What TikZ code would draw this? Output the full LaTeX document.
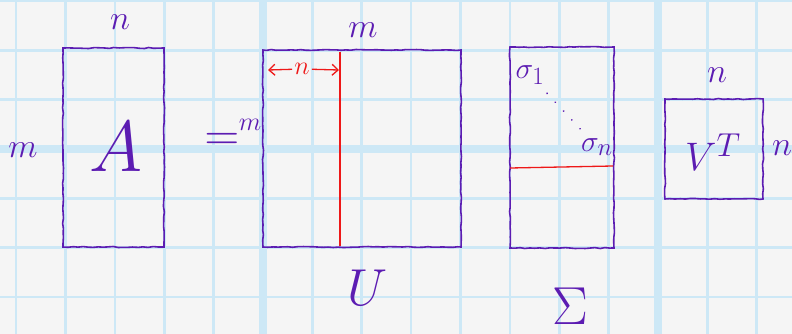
\documentclass[tikz,border=0pt]{standalone}
\usepackage{xcolor}
\usepackage{tikz}
\usetikzlibrary{positioning, arrows.meta, decorations.pathmorphing}

\definecolor{ink}{RGB}{92,28,178}
\definecolor{redink}{RGB}{238,24,24}
\definecolor{gridblue}{RGB}{205,232,246}
\definecolor{paper}{RGB}{245,245,245}

\tikzset{
  wobble/.style={decorate, decoration={random steps, segment length=5pt, amplitude=0.5pt}},
  matbox/.style={draw=ink, line width=1.6pt, minimum width=#1, inner sep=0pt},
  lbl/.style={text=ink, inner sep=0pt, font=\Huge, scale=1.37},
  big/.style={text=ink, inner sep=0pt, font=\Huge, scale=#1},
  redline/.style={draw=redink, line width=1.3pt},
}

\begin{document}
\begin{tikzpicture}[x=1pt, y=-1pt]
        \useasboundingbox (0,0) rectangle (792,334);
        \fill[paper] (0,0) rectangle (792,334);
%
        % grid paper
        \foreach \i in {0,...,15}
            \draw[gridblue, line width=2.6pt] ({16.1+49.375*\i},0) -- ({16.1+49.375*\i},334);
        \foreach \j in {0,...,6}
            \draw[gridblue, line width=2.6pt] (0,{1+49.33*\j}) -- (792,{1+49.33*\j});
        \draw[gridblue, line width=8pt] (263,0) -- (263,334);
        \draw[gridblue, line width=8pt] (658,0) -- (658,334);
        \draw[gridblue, line width=8pt] (0,149) -- (792,149);
%
        % matrices
        \node[matbox=101pt, minimum height=199pt, wobble] (A) at (113.5,147.5) {};
        \node[matbox=198pt, minimum height=197pt, wobble] (U) at (362,148.5) {};
        \node[matbox=104pt, minimum height=201pt, wobble] (S) at (562,147.5) {};
        \node[matbox=98pt, minimum height=100pt, wobble] (V) at (714,149) {};
%
        % A
        \node[big=2.9] (Aname) at (116,147) {$A$};
        \node[lbl] (An) at (120,22) {$n$};
        \node[lbl] (Am) at (23,150) {$m$};
        \node[big=1.93] (eq) at (222,142) {$=$};
%
        % U
        \node[lbl] (Um) at (363,30) {$m$};
        \node[big=1.05] (Uleft) at (250,125) {$m$};
        \node[big=2.09] (Uname) at (368,288) {$U$};
        \coordinate (splitTop) at (340,52);
        \coordinate (splitBot) at (340,246);
        \draw[redline] (splitTop) -- (splitBot);
        \coordinate (arrL) at (268,70);
        \coordinate (arrR) at (339,70);
        \node[big=1.05, text=redink, inner sep=2pt] (Un) at (302,69) {$n$};
        \draw[redline, -{Straight Barb[length=6pt, width=11pt]}] (Un) -- (arrL);
        \draw[redline, -{Straight Barb[length=6pt, width=11pt]}] (Un) -- (arrR);
%
        % Sigma
        \node[big=1.2] (s1) at (530,75) {$\sigma_1$};
        \node[big=1.2] (sn) at (597,147) {$\sigma_n$};
        \draw[ink, line width=1.8pt, line cap=round, dash pattern=on 0.1pt off 12pt, shorten <=12pt, shorten >=12pt] (s1) -- (sn);
        \coordinate (cutL) at (510,168);
        \coordinate (cutR) at (613,166);
        \draw[redline] (cutL) -- (cutR);
        \node[big=2.15] (Sname) at (570,306) {$\Sigma$};
%
        % V transpose
        \node[lbl] (Vn) at (717,75) {$n$};
        \node[lbl] (Vright) at (782,148) {$n$};
        \node[big=1.6] (Vname) at (713,152) {$V^T$};
\end{tikzpicture}
\end{document}
